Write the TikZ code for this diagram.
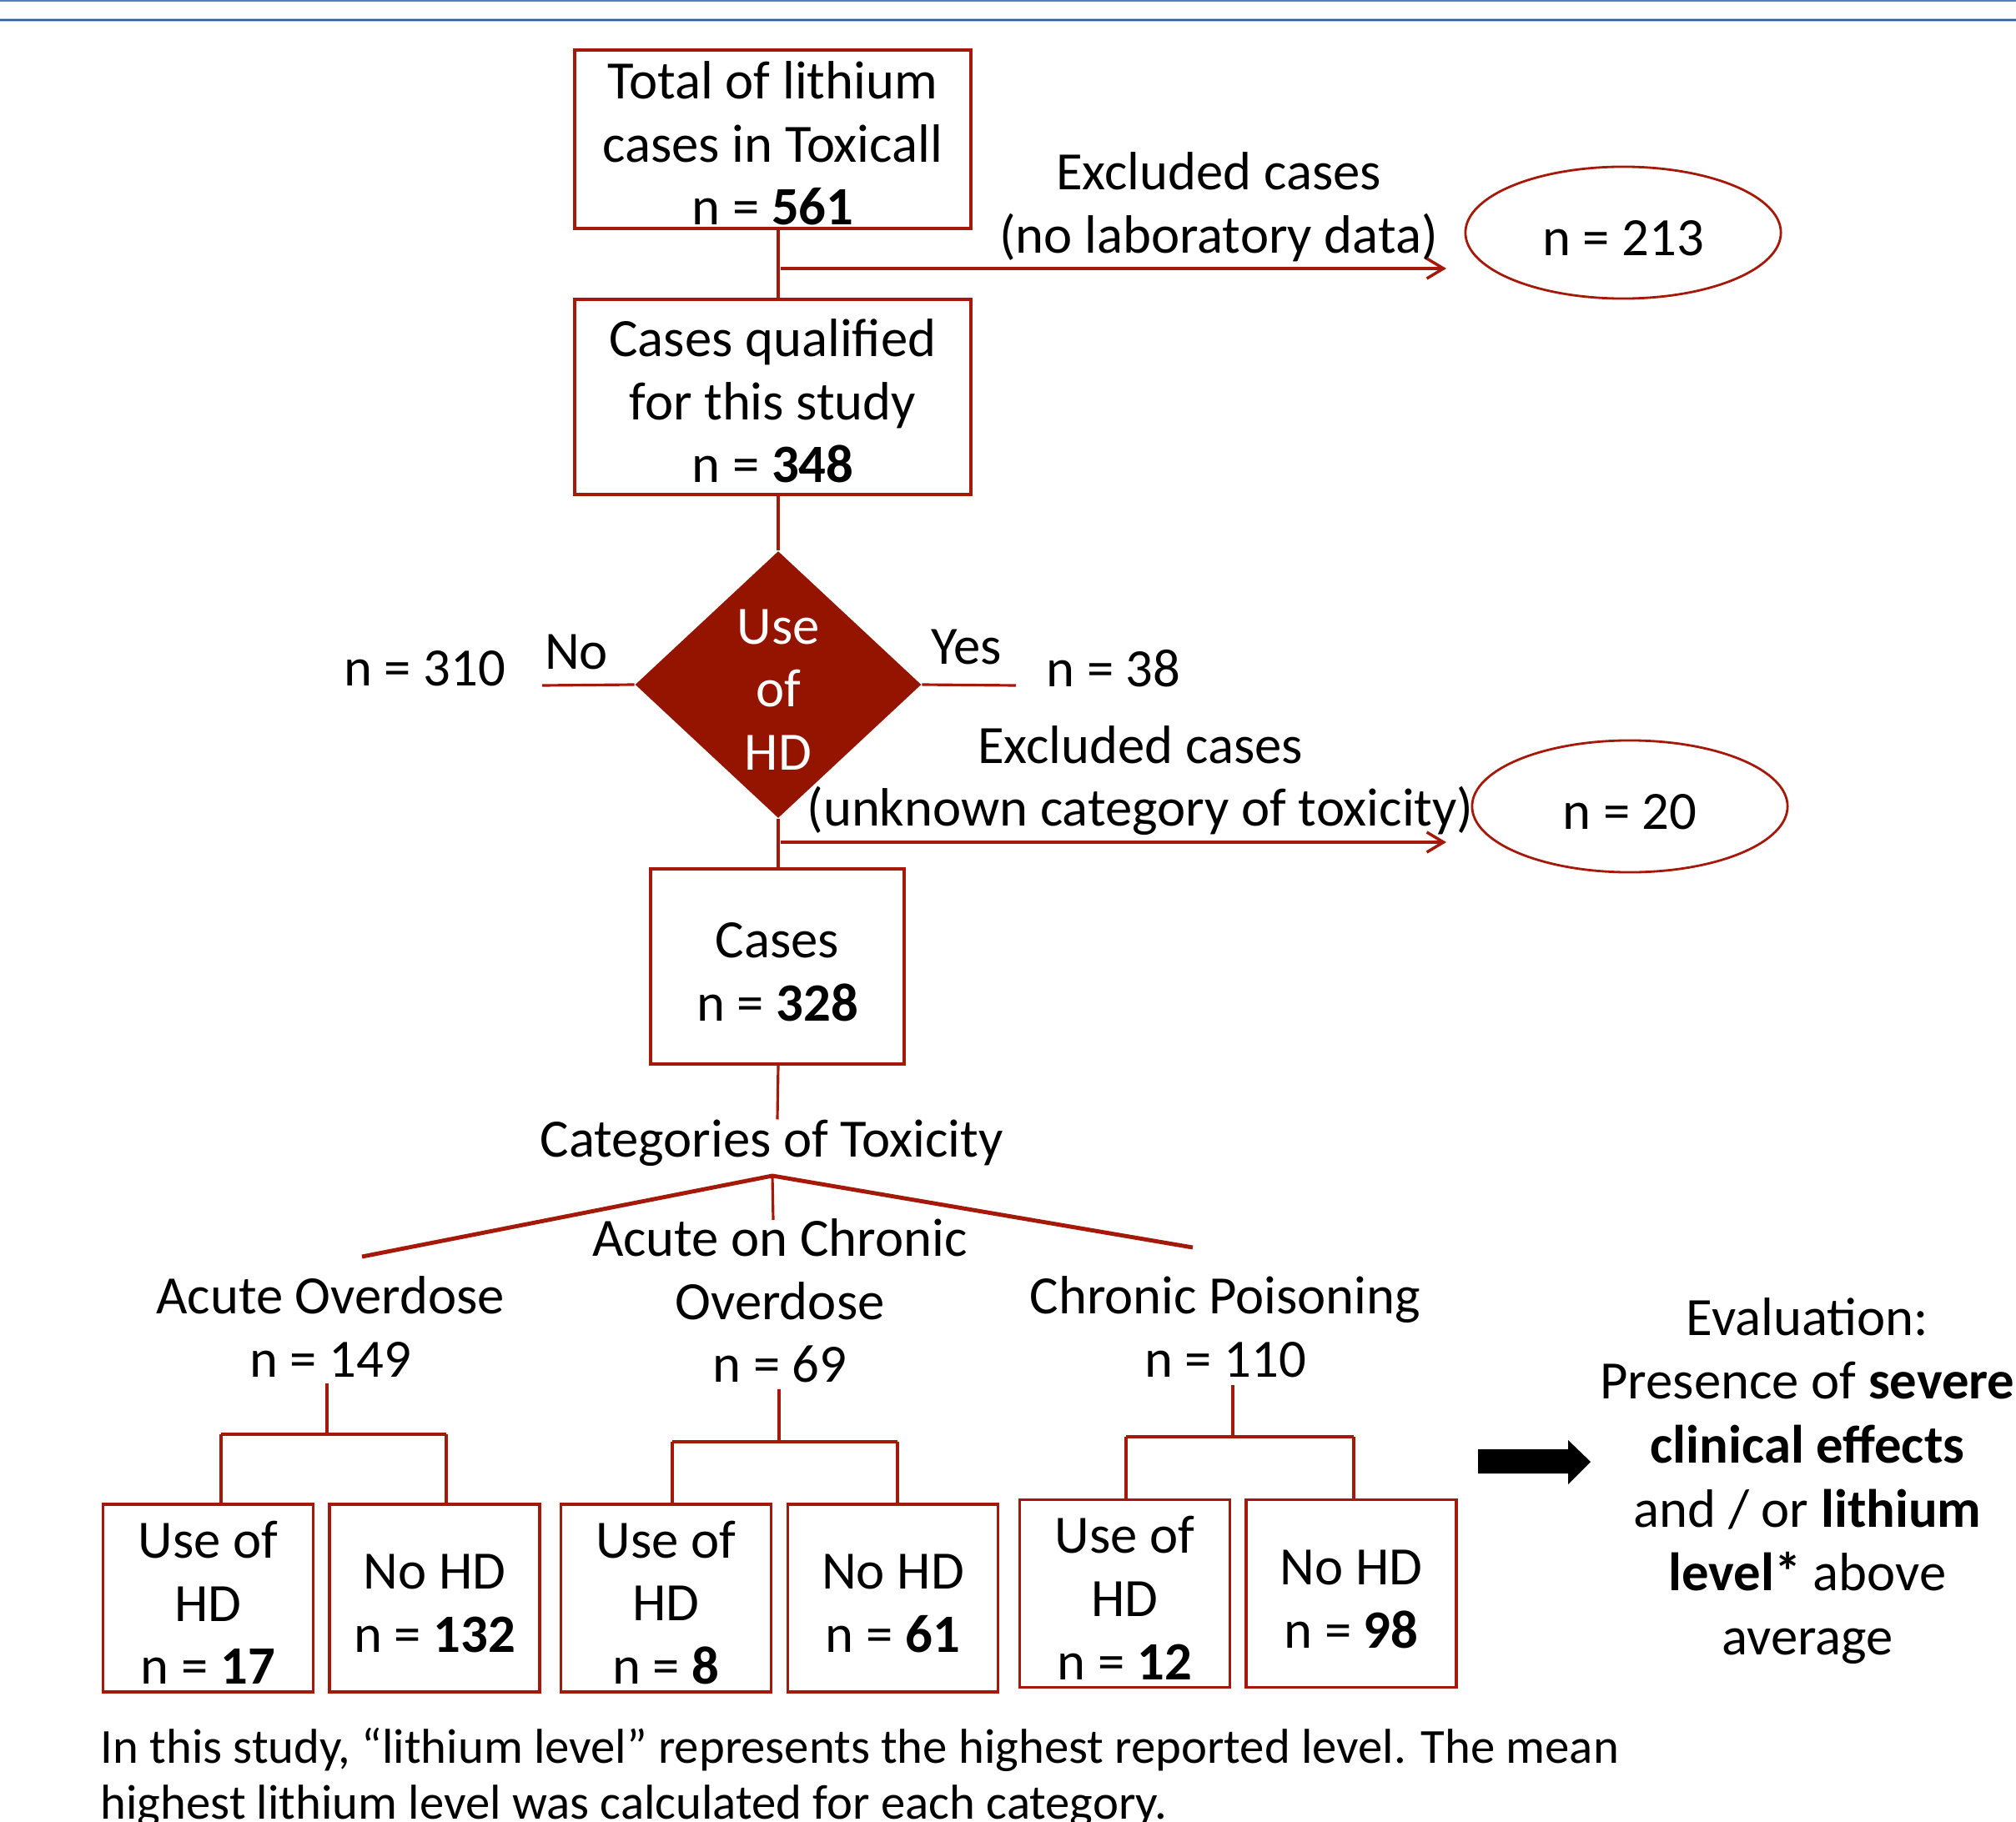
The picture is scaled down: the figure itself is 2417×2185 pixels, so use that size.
\documentclass[tikz,border=0pt]{standalone}
\usepackage{fontspec}
\setmainfont{Carlito}
\usetikzlibrary{shapes.geometric,arrows.meta}
\definecolor{dred}{RGB}{148,20,0}
\definecolor{lred}{RGB}{165,25,10}
\definecolor{blueA}{RGB}{79,129,189}
\definecolor{blueB}{RGB}{47,95,150}
\definecolor{blueL}{RGB}{170,200,230}
\newcommand\myst{\rule{0pt}{0.85em}}
\begin{document}
\begin{tikzpicture}[x=0.01cm,y=-0.01cm,
  every node/.style={font=\fontsize{18.4}{21.5}\selectfont, inner sep=0pt},
  box/.style={draw=lred, line width=1pt, align=center},
  ell/.style={ellipse, draw=lred, line width=0.8pt, minimum width=3.78cm, minimum height=1.58cm},
  txt/.style={align=center},
  conn/.style={draw=lred, line width=0.9pt},
  thick conn/.style={draw=lred, line width=1.4pt},
  arr/.style={draw=lred, line width=1pt, -{Straight Barb[length=0.2cm, width=0.24cm]}}
]
\useasboundingbox (0,0) rectangle (2417,2185);
% top rules
\draw[blueA, line width=0.6pt] (0,1) -- (2417,1);
\draw[blueL, line width=1.3pt] (0,24) -- (2417,24);
\draw[blueB, line width=0.75pt] (0,24) -- (2417,24);

% main boxes
\node[box, minimum width=4.75cm, minimum height=2.14cm] (b1) at (926.5,167) {\myst Total of lithium\\cases in Toxicall\\n = \textbf{561}};
\node[box, minimum width=4.75cm, minimum height=2.34cm] (b2) at (926.5,476) {\myst Cases qualified\\for this study\\n = \textbf{348}};
\node[diamond, fill=dred, aspect=1.07, minimum width=3.43cm, minimum height=3.2cm] (dia) at (933,821) {};
\node[txt, text=white] (diat) at (933,827) {Use\\of\\HD};
\node[box, minimum width=3.04cm, minimum height=2.34cm] (b3) at (932,1159) {\myst Cases\\n = \textbf{328}};

% exclusions
\node[ell] (e1) at (1946,279) {\myst n = 213};
\node[ell] (e2) at (1954,967) {\myst n = 20};
\node[txt] (ex1) at (1461,248) {Excluded cases\\(no laboratory data)};
\node[txt] (ex2) at (1367,936) {Excluded cases\\(unknown category of toxicity)};
\coordinate (a1s) at (936,322);
\coordinate (a1e) at (1734,322);
\coordinate (a2s) at (936,1010);
\coordinate (a2e) at (1734,1010);

\draw[conn] (b1.south -| dia) -- (b2.north -| dia);
\draw[arr] (a1s) -- (a1e);
\draw[conn] (b2.south -| dia) -- (dia.north);
\draw[conn] (dia.south) -- (b3.north -| dia);
\draw[arr] (a2s) -- (a2e);

% no / yes
\coordinate (noE) at (650,822);
\coordinate (yesE) at (1218,822);
\draw[conn] (dia.west) -- (noE);
\draw[conn] (dia.east) -- (yesE);
\node (no) at (691,782) {No};
\node (n310) at (509,802) {n = 310};
\node (yes) at (1159,776) {Yes};
\node (n38) at (1335,802) {n = 38};

% categories
\node (cot) at (925,1371) {Categories of Toxicity};
\draw[conn] (b3.south -| dia) -- (b3.south |- cot.north);
\coordinate (apex) at (926,1410);
\coordinate (tL) at (434,1507);
\coordinate (tR) at (1430,1496);
\coordinate (tM) at (927,1463);
\draw[thick conn] (tL) -- (apex) -- (tR);
\draw[conn] (apex) -- (tM);

\node[txt] (c1) at (396,1591) {Acute Overdose\\n = 149};
\node[txt] (c2) at (935,1560) {Acute on Chronic\\Overdose\\n = 69};
\node[txt] (c3) at (1469,1591) {Chronic Poisoning\\n = 110};

% leaf boxes
\tikzset{leaf/.style={box, minimum width=2.52cm, minimum height=2.25cm}}
\node[leaf] (l1) at (249.5,1916.5) {\myst Use of\\HD\\n = \textbf{17}};
\node[leaf] (l2) at (521,1916.5) {\myst No HD\\n = \textbf{132}};
\node[leaf] (l3) at (798.5,1916.5) {\myst Use of\\HD\\n = \textbf{8}};
\node[leaf] (l4) at (1070.5,1916.5) {\myst No HD\\n = \textbf{61}};
\node[leaf] (l5) at (1348.5,1911) {\myst Use of\\HD\\n = \textbf{12}};
\node[leaf] (l6) at (1620,1911) {\myst No HD\\n = \textbf{98}};

% sub-trees
\coordinate (s1) at (392,1659); \coordinate (h1L) at (265,1720); \coordinate (h1R) at (535,1720);
\coordinate (s2) at (934,1666); \coordinate (h2L) at (806,1729); \coordinate (h2R) at (1076,1729);
\coordinate (s3) at (1478,1661); \coordinate (h3L) at (1350,1723); \coordinate (h3R) at (1623,1723);
\draw[conn] (s1) -- (s1 |- h1L);
\draw[conn] (s2) -- (s2 |- h2L);
\draw[conn] (s3) -- (s3 |- h3L);
\draw[thick conn] (h1L) -- (h1R);
\draw[thick conn] (h2L) -- (h2R);
\draw[thick conn] (h3L) -- (h3R);
\draw[conn] (h1L) -- (h1L |- l1.north);
\draw[conn] (h1R) -- (h1R |- l2.north);
\draw[conn] (h2L) -- (h2L |- l3.north);
\draw[conn] (h2R) -- (h2R |- l4.north);
\draw[conn] (h3L) -- (h3L |- l5.north);
\draw[conn] (h3R) -- (h3R |- l6.north);

% black arrow and evaluation
\fill[black] (1772,1738) -- (1880,1738) -- (1880,1727) -- (1907,1753) -- (1880,1780) -- (1880,1767) -- (1772,1767) -- cycle;
\node[txt, font=\fontsize{18.4}{21.8}\selectfont] (ev) at (2167,1776) {Evaluation:\\Presence of \textbf{severe}\\\textbf{clinical effects}\\and / or \textbf{lithium}\\\textbf{level*} above\\average};

% footnote
\node[anchor=base west, align=left, font=\fontsize{16.7}{18.9}\selectfont] (fn) at (120,2181) {In this study, “lithium level” represents the highest reported level. The mean\\highest lithium level was calculated for each category.};
\end{tikzpicture}
\end{document}
